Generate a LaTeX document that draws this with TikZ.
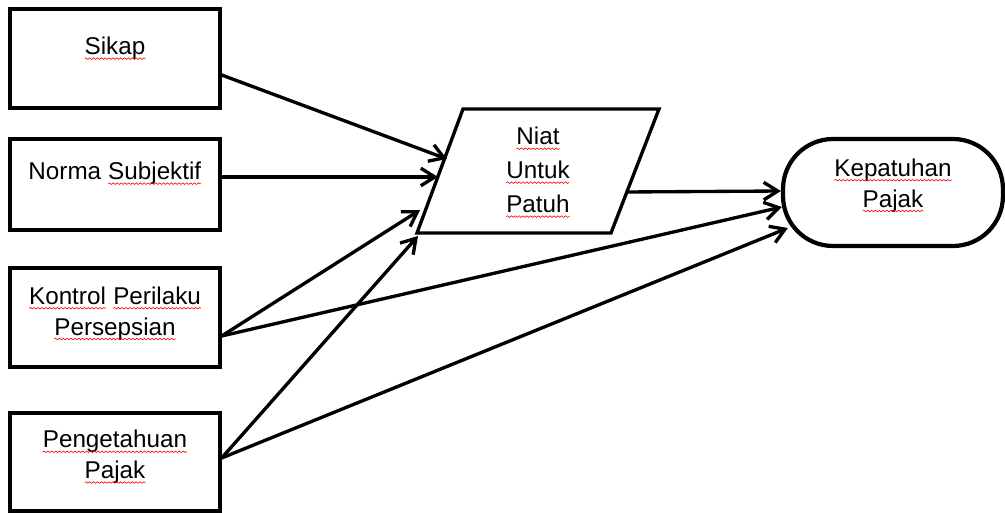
\documentclass[tikz,border=0pt]{standalone}
\usepackage{fontspec}
\setmainfont{Liberation Sans}
\usetikzlibrary{arrows.meta,calc,decorations.pathmorphing}
\newcommand\wavy[1]{\tikz[baseline=(w.base)]{\node[draw=none,rectangle,inner sep=0pt,outer sep=0pt,minimum size=0pt] (w) {#1};
	\draw[red,line width=0.35pt,decorate,decoration={snake,amplitude=0.45pt,segment length=2.2pt}] ([yshift=-2.2pt]w.base west) -- ([yshift=-2.2pt]w.base east);}}

\begin{document}
\begin{tikzpicture}[x=0.02cm,y=-0.02cm,
	box/.style={draw, line width=1.9pt, minimum width=4.2cm, inner sep=0pt},
	txt/.style={align=center, inner sep=0pt, font=\fontsize{13.8}{17.5}\selectfont},
	arr/.style={line width=1.9pt, -{Straight Barb[length=8pt,width=10pt]}}]
		%%%%% START %%%%%
		
		\useasboundingbox (0,0) rectangle (1005,513);
		
		\node[box, minimum height=1.98cm] (sikap) at (115,58.5) {};
		\node[box, minimum height=1.82cm] (norma) at (115,184.5) {};
		\node[box, minimum height=1.98cm] (kontrol) at (115,317.5) {};
		\node[box, minimum height=1.96cm] (tahu) at (115,462) {};
		
		% parallelogram
		\coordinate (nBL) at (417,233);
		\coordinate (nBR) at (611,233);
		\coordinate (nTR) at (659,109);
		\coordinate (nTL) at (463,109);
		\draw[line width=1.9pt, line join=miter] (nBL) -- (nBR) -- (nTR) -- (nTL) -- cycle;
		\node[draw, line width=2.4pt, rounded corners=1cm, minimum width=4.4cm, minimum height=2.14cm] (patuh) at (893,192.5) {};
		
		\node[txt] (sikapT) at ([yshift=0.2cm]sikap) {\wavy{Sikap}};
		\node[txt] (normaT) at ([yshift=0.22cm]norma) {Norma \wavy{Subjektif}};
		\node[txt] (kontrolT) at ([yshift=0.08cm]kontrol) {\wavy{Kontrol} \wavy{Perilaku}\\\wavy{Persepsian}};
		\node[txt] (tahuT) at ([yshift=0.1cm]tahu) {\wavy{Pengetahuan}\\\wavy{Pajak}};
		\node[txt, font=\fontsize{13.8}{19.3}\selectfont] (niat) at (538,172.5) {\wavy{Niat}\\\wavy{Untuk}\\\wavy{Patuh}};
		\node[txt] (patuhT) at ([yshift=0.14cm]patuh) {\wavy{Kepatuhan}\\\wavy{Pajak}};
		
		\draw[arr] ($(sikap.east)+(0,16.5)$) -- ($(nBL)+(30,-74)$);
		\draw[arr] ($(norma.east)+(0,-7.5)$) -- ($(nBL)+(21,-56)$);
		\draw[arr] ($(kontrol.east)+(0,18.5)$) -- ($(nBL)+(3,-23)$);
		\draw[arr] ($(tahu.east)+(0,-4)$) -- ($(nBL)+(1,3)$);
		
		\draw[arr] ($(nBR)+(15,-41)$) -- ($(patuh.west)+(0,-1.5)$);
		\draw[arr] ($(kontrol.east)+(0,18.5)$) -- ($(patuh.west)+(1,14.5)$);
		\draw[arr] ($(tahu.east)+(0,-4)$) -- ($(patuh.west)+(7,35.5)$);
		
		%%%%% END %%%%%
\end{tikzpicture}
\end{document}
